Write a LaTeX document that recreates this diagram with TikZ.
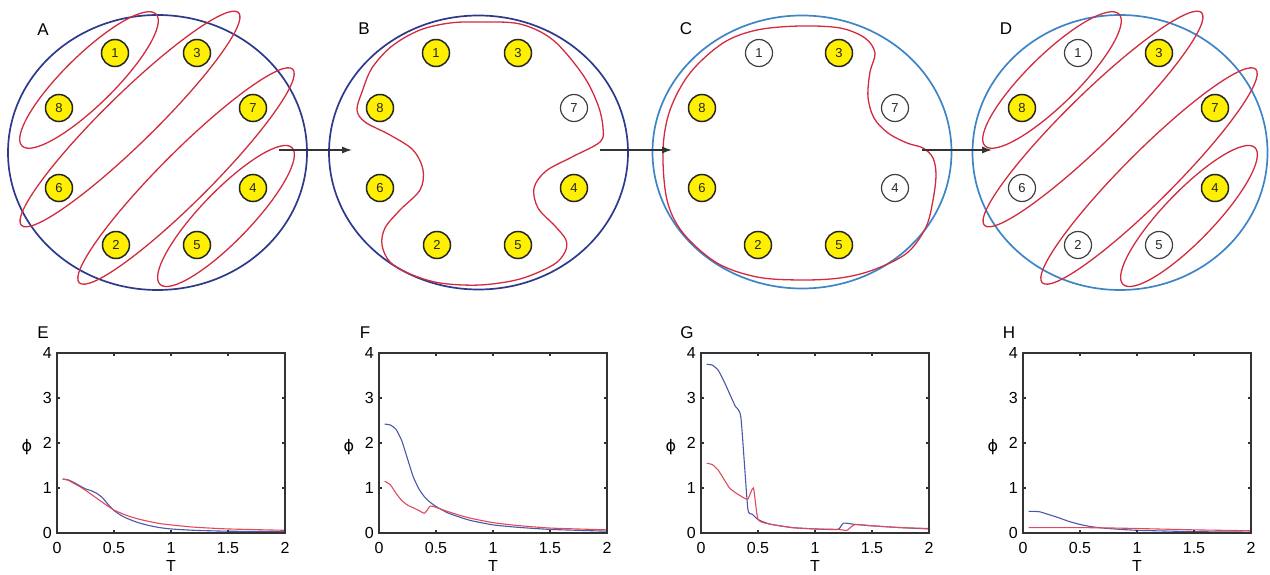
\documentclass[tikz,border=0pt]{standalone}
\usepackage{fontspec}
\setmainfont{Liberation Sans}
\newfontfamily\dejavu{DejaVu Sans}
\usetikzlibrary{arrows.meta}
\definecolor{navy}{HTML}{2D3A8C}
\definecolor{lblue}{HTML}{3D85C6}
\definecolor{cred}{HTML}{D22B40}
\definecolor{pblue}{HTML}{4A58A8}
\definecolor{pred}{HTML}{E04A5C}
\definecolor{nyel}{HTML}{FFF000}
\tikzset{
  yn/.style={circle, draw=black!85, fill=nyel, line width=1.5pt, minimum size=27pt, inner sep=0pt,
    font=\fontsize{13}{14}\selectfont, text=black!85},
  wn/.style={yn, fill=white, draw=black!75, line width=1.2pt},
  ringd/.style={draw=navy, line width=1.7pt},
  ringl/.style={draw=lblue, line width=1.7pt},
  redl/.style={draw=cred, line width=1.3pt},
  flow/.style={line width=1.2pt, draw=black!80, -{Latex[length=10pt,width=7pt]}},
  plab/.style={font=\fontsize{17}{18}\selectfont},
  ticklab/.style={font=\fontsize{16}{17}\selectfont, inner sep=0pt},
  axisl/.style={draw=black!80, line width=1.1pt},
  bcurve/.style={draw=pblue, line width=1.1pt},
  rcurve/.style={draw=pred, line width=1.1pt},
}
\newcommand{\ellset}{%
  \draw[redl, rotate around={44.5:(89,80)}] (89,80) ellipse [x radius=94pt, y radius=25pt];
  \draw[redl, rotate around={44.4:(130,119)}] (130,119) ellipse [x radius=152pt, y radius=25pt];
  \draw[redl, rotate around={45:(186,176)}] (186,176) ellipse [x radius=151pt, y radius=25pt];
  \draw[redl, rotate around={46:(226,216)}] (226,216) ellipse [x radius=95pt, y radius=25pt];
}
\newcommand{\phiplot}[5]{%
  \begin{scope}[shift={(#1,533)}, x=114pt, y=45pt]
    \draw[bcurve] plot[smooth, tension=0.3] coordinates {#4};
    \draw[rcurve] plot[smooth, tension=0.3] coordinates {#5};
    \draw[axisl] (0,0) rectangle (2,4);
    \foreach \t in {0.5,1,1.5} {
      \draw[axisl] (\t,0) -- ++(0,3pt);
      \draw[axisl] (\t,4) -- ++(0,-3pt);
    }
    \foreach \v in {1,2,3} {
      \draw[axisl] (0,\v) -- ++(3pt,0);
      \draw[axisl] (2,\v) -- ++(-3pt,0);
    }
    \foreach \t/\l [count=\i] in {0/0,0.5/0.5,1/1,1.5/1.5,2/2}
      \node[ticklab, anchor=north, yshift=-9pt] (#3x\i) at (\t,0) {\l};
    \foreach \v [count=\i] in {0,1,2,3,4}
      \node[ticklab, anchor=east, xshift=-5pt] (#3y\i) at (0,\v) {\v};
    \node[ticklab, yshift=-33pt] (#3T) at (1,0) {T};
    \node[ticklab, xshift=-30pt] (#3phi) at (0,1.91) {\dejavu ϕ};
    \node[plab, xshift=-14pt, yshift=20pt] (#3lab) at (0,4) {#2};
  \end{scope}
}
\begin{document}
\begin{tikzpicture}[x=1pt, y=-1pt]
\useasboundingbox (0,0) rectangle (1270,575);

% ---------- Panel A ----------
\draw[ringd] (157.5,152.5) ellipse [x radius=149.5pt, y radius=137.5pt];
\ellset
\node[plab] (labA) at (43,30) {A};
\node[yn] (A1) at (115,53) {1};
\node[yn] (A3) at (197,53) {3};
\node[yn] (A8) at (59,108) {8};
\node[yn] (A7) at (253,108) {7};
\node[yn] (A6) at (59,188) {6};
\node[yn] (A4) at (253,188) {4};
\node[yn] (A2) at (116,245) {2};
\node[yn] (A5) at (197,245) {5};

% ---------- Panel B ----------
\begin{scope}[xshift=321pt]
\draw[ringd] (157.5,152.5) ellipse [x radius=149.5pt, y radius=137pt];
\node[plab] (labB) at (43,29) {B};
\node[yn] (B1) at (115,53) {1};
\node[yn] (B3) at (197,53) {3};
\node[yn] (B8) at (59,108) {8};
\node[wn] (B7) at (253,108) {7};
\node[yn] (B6) at (59,188) {6};
\node[yn] (B4) at (253,188) {4};
\node[yn] (B2) at (116,245) {2};
\node[yn] (B5) at (197,245) {5};
\end{scope}
\draw[redl] plot[smooth cycle, tension=0.55] coordinates {
 (480,22) (520,24) (553,40) (583,75) (598,105) (603,128) (600,142) (572,157) (546,171)
 (534,188) (538,208) (555,226) (566,240) (565,252) (553,265) (520,279) (480,285)
 (440,283) (410,274) (390,262) (382,245) (385,228) (400,210) (420,190) (423,170)
 (413,150) (390,135) (365,122) (357,110) (362,92) (372,68) (392,46) (420,30) (450,23)};

% ---------- Panel C ----------
\begin{scope}[xshift=644pt]
\draw[ringl] (158,152) ellipse [x radius=149.5pt, y radius=136.5pt];
\node[plab] (labC) at (42,29) {C};
\node[wn] (C1) at (115,53) {1};
\node[yn] (C3) at (195,53) {3};
\node[yn] (C8) at (58,108) {8};
\node[wn] (C7) at (251,108) {7};
\node[yn] (C6) at (58,188) {6};
\node[wn] (C4) at (251,188) {4};
\node[yn] (C2) at (114,245) {2};
\node[yn] (C5) at (195,245) {5};
\end{scope}
\draw[redl] plot[smooth cycle, tension=0.55] coordinates {
 (800,26) (840,28) (865,38) (875,53) (870,72) (868,97) (874,118) (888,133) (907,143)
 (923,148) (933,158) (936,175) (933,200) (926,227) (907,253) (873,270) (840,278)
 (800,280) (757,277) (717,263) (683,233) (667,200) (663,150) (670,110) (690,73)
 (723,43) (757,30)};

% ---------- Panel D ----------
\begin{scope}[xshift=963pt]
\draw[ringl] (157,152.5) ellipse [x radius=147.5pt, y radius=137.5pt];
\ellset
\node[plab] (labD) at (43,29) {D};
\node[wn] (D1) at (115,53) {1};
\node[yn] (D3) at (196,53) {3};
\node[yn] (D8) at (59,108) {8};
\node[yn] (D7) at (252,108) {7};
\node[wn] (D6) at (59,188) {6};
\node[yn] (D4) at (252,188) {4};
\node[wn] (D2) at (115,245) {2};
\node[wn] (D5) at (196,245) {5};
\end{scope}

% ---------- arrows ----------
\coordinate (s1) at (279,150); \coordinate (e1) at (352,150);
\coordinate (s2) at (600,150); \coordinate (e2) at (672,150);
\coordinate (s3) at (922,150); \coordinate (e3) at (992,150);
\draw[flow] (s1) -- (e1);
\draw[flow] (s2) -- (e2);
\draw[flow] (s3) -- (e3);

% ---------- plots ----------
\phiplot{57}{E}{E}
 {(0.05,1.2) (0.1,1.18) (0.15,1.12) (0.2,1.05) (0.25,0.98) (0.3,0.94) (0.35,0.88) (0.4,0.78) (0.45,0.63) (0.5,0.5) (0.55,0.41) (0.6,0.34) (0.7,0.24) (0.8,0.17) (0.9,0.12) (1,0.09) (1.2,0.06) (1.5,0.04) (2,0.03)}
 {(0.05,1.2) (0.1,1.17) (0.15,1.1) (0.2,1.03) (0.25,0.95) (0.3,0.86) (0.35,0.77) (0.4,0.68) (0.45,0.59) (0.5,0.51) (0.6,0.4) (0.7,0.32) (0.8,0.26) (0.9,0.21) (1,0.18) (1.2,0.13) (1.5,0.09) (2,0.06)}
\phiplot{379}{F}{F}
 {(0.05,2.42) (0.1,2.4) (0.15,2.3) (0.2,2.05) (0.25,1.65) (0.3,1.25) (0.35,0.98) (0.4,0.8) (0.45,0.68) (0.5,0.59) (0.6,0.45) (0.7,0.36) (0.8,0.28) (1,0.18) (1.2,0.13) (1.5,0.08) (2,0.04)}
 {(0.05,1.15) (0.1,1.07) (0.15,0.88) (0.2,0.72) (0.25,0.62) (0.3,0.56) (0.35,0.5) (0.4,0.44) (0.45,0.6) (0.5,0.57) (0.6,0.48) (0.7,0.4) (0.8,0.33) (1,0.23) (1.2,0.17) (1.5,0.11) (2,0.07)}
\phiplot{701}{G}{G}
 {(0.05,3.75) (0.1,3.73) (0.15,3.62) (0.2,3.38) (0.25,3.1) (0.3,2.82) (0.35,2.57) (0.41,0.55) (0.45,0.42) (0.5,0.3) (0.6,0.2) (0.8,0.12) (1,0.09) (1.2,0.08) (1.25,0.22) (1.35,0.19) (1.5,0.16) (1.75,0.12) (2,0.09)}
 {(0.05,1.55) (0.1,1.52) (0.15,1.4) (0.2,1.2) (0.25,1.0) (0.3,0.9) (0.35,0.82) (0.41,0.75) (0.46,1.0) (0.5,0.3) (0.6,0.2) (0.8,0.12) (1,0.09) (1.2,0.08) (1.28,0.06) (1.35,0.19) (1.5,0.16) (1.75,0.12) (2,0.1)}
\phiplot{1023}{H}{H}
 {(0.05,0.48) (0.1,0.48) (0.15,0.47) (0.2,0.43) (0.3,0.35) (0.4,0.26) (0.5,0.19) (0.6,0.14) (0.7,0.11) (0.8,0.09) (1,0.06) (1.5,0.03) (2,0.02)}
 {(0.05,0.12) (0.5,0.12) (0.8,0.11) (1,0.1) (1.5,0.07) (2,0.05)}
\end{tikzpicture}
\end{document}
